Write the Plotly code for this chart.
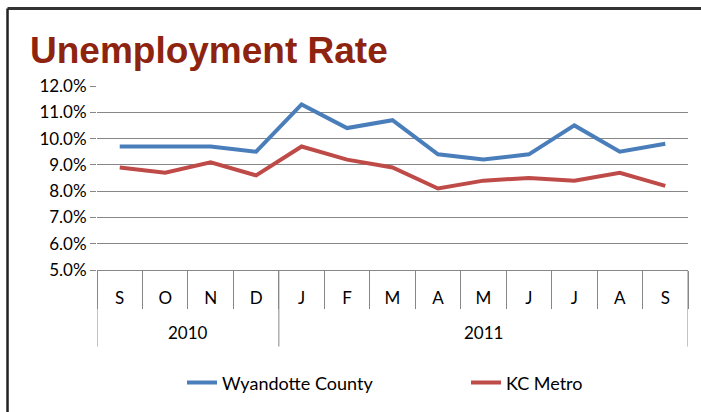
import plotly.graph_objects as go

years = ["2010"] * 4 + ["2011"] * 9
months = ["S", "O", "N", "D", "J", "F", "M", "A", "M", "J", "J", "A", "S"]
wyandotte = [9.7, 9.7, 9.7, 9.5, 11.3, 10.4, 10.7, 9.4, 9.2, 9.4, 10.5, 9.5, 9.8]
kc_metro = [8.9, 8.7, 9.1, 8.6, 9.7, 9.2, 8.9, 8.1, 8.4, 8.5, 8.4, 8.7, 8.2]

idx = list(range(len(months)))
font = "Lato, 'Open Sans', sans-serif"
grey = "#878787"

fig = go.Figure()
fig.add_trace(go.Scatter(x=idx, y=wyandotte, mode="lines", name="Wyandotte County",
                         line=dict(color="#4A7EBB", width=4), legend="legend"))
fig.add_trace(go.Scatter(x=idx, y=kc_metro, mode="lines", name="KC Metro",
                         line=dict(color="#BE4B48", width=4), legend="legend2"))

fig.update_layout(
    width=701, height=412,
    margin=dict(l=97, r=13, t=86, b=141),
    paper_bgcolor="white", plot_bgcolor="white",
    font=dict(family=font, size=17, color="black"),
    title=dict(text="<b>Unemployment Rate</b>", x=30 / 701, xanchor="left",
               xref="container", y=1 - 50 / 412, yanchor="middle", yref="container",
               font=dict(family="'Liberation Sans', Arial, sans-serif",
                         size=37, color="#8E2410")),
    showlegend=True,
    legend=dict(x=(182 - 97) / 591, xanchor="left", y=-0.605, yanchor="middle",
                font=dict(size=18)),
    legend2=dict(x=(466 - 97) / 591, xanchor="left", y=-0.605, yanchor="middle",
                 font=dict(size=18)),
)
fig.update_yaxes(range=[5, 12], dtick=1, ticksuffix="%", tickformat=".1f",
                 showgrid=True, gridcolor=grey, gridwidth=1,
                 ticks="outside", ticklen=6, tickcolor=grey,
                 showline=False, zeroline=False)
fig.update_xaxes(range=[-0.5, len(months) - 0.5], tickvals=idx, ticktext=months,
                 showgrid=False, showline=True, linecolor=grey, linewidth=1,
                 ticks="", ticklabelstandoff=13, zeroline=False,
                 minor=dict(tickvals=[i - 0.5 for i in range(len(months) + 1)],
                            ticks="outside", ticklen=38, tickcolor=grey, showgrid=False))

# year row: dividers and labels
bounds = [i for i in range(1, len(years)) if years[i] != years[i - 1]]
edges = [0] + bounds + [len(years)]
for a, b in zip(edges[:-1], edges[1:]):
    fig.add_annotation(x=(a + b - 1) / 2, y=-0.34, xref="x", yref="paper",
                       text=years[a], showarrow=False, yanchor="middle",
                       font=dict(size=17))
for e in edges:
    fig.add_shape(type="line", xref="x", yref="paper", x0=e - 0.5, x1=e - 0.5,
                  y0=0, y1=-0.416, line=dict(color=grey, width=1))

# outer frame on left and top
fig.add_shape(type="line", xref="paper", yref="paper", x0=-0.1514, x1=1.03,
              y0=1.4216, y1=1.4216, line=dict(color="#333333", width=3))
fig.add_shape(type="line", xref="paper", yref="paper", x0=-0.1514, x1=-0.1514,
              y0=1.4216, y1=-0.8, line=dict(color="#222222", width=2.5))

fig.write_html("out.html", config={"displayModeBar": False},
               post_script="document.body.style.margin='0';")
